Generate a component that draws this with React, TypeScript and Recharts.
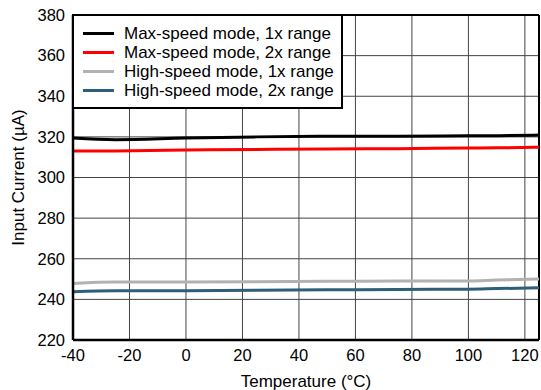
import React from 'react';
import { LineChart, Line, XAxis, YAxis, CartesianGrid, ReferenceLine } from 'recharts';

const temps = [-40, -25, 0, 25, 50, 75, 100, 110, 125];
const maxSpeed1x = [319.4, 318.6, 319.4, 320.0, 320.3, 320.3, 320.5, 320.6, 320.9];
const maxSpeed2x = [313.0, 313.1, 313.5, 313.8, 314.0, 314.2, 314.5, 314.6, 314.9];
const highSpeed1x = [247.8, 248.5, 248.5, 248.7, 248.9, 249.0, 249.1, 249.5, 250.0];
const highSpeed2x = [243.8, 244.2, 244.3, 244.5, 244.7, 244.9, 245.0, 245.3, 245.7];

const xTicks = [-40, -20, 0, 20, 40, 60, 80, 100, 120];
const yTicks = [220, 240, 260, 280, 300, 320, 340, 360, 380];

const seriesNames = [
  'Max-speed mode, 1x range',
  'Max-speed mode, 2x range',
  'High-speed mode, 1x range',
  'High-speed mode, 2x range',
];
const seriesColors = ['#000000', '#ff0000', '#b2b2b2', '#2e5f7a'];
const seriesValues = [maxSpeed1x, maxSpeed2x, highSpeed1x, highSpeed2x];
const seriesKeys = ['s0', 's1', 's2', 's3'];

const data = temps.map((t, i) => {
  const row: any = { t };
  seriesKeys.forEach((k, j) => {
    row[k] = seriesValues[j][i];
  });
  return row;
});

const FONT = '"Liberation Sans", Arial, sans-serif';

const YLabel = (props: any) => {
  const vb = props.viewBox || {};
  const cx = 18;
  const cy = (vb.y ?? 15) + (vb.height ?? 325) / 2;
  return (
    <text
      x={cx}
      y={cy}
      transform={`rotate(-90, ${cx}, ${cy})`}
      textAnchor="middle"
      dominantBaseline="central"
      fontSize={17}
      fontFamily={FONT}
      fill="#000"
    >
      Input Current (µA)
    </text>
  );
};

export default function App() {
  return (
    <div style={{ position: 'absolute', left: 0, top: 0, width: 541, height: 390, background: '#fff', fontFamily: FONT }}>
      <LineChart width={541} height={390} data={data} margin={{ top: 15, right: 2, bottom: 0, left: 0 }}>
        <CartesianGrid stroke="#444" strokeWidth={1} />
        <XAxis
          dataKey="t"
          type="number"
          domain={[-40, 125]}
          ticks={xTicks}
          allowDataOverflow
          height={50}
          tickSize={0}
          tickMargin={9}
          axisLine={{ stroke: '#000', strokeWidth: 2.5 }}
          tick={{ fontSize: 16.5, fontFamily: FONT, fill: '#000' }}
          label={{ value: 'Temperature (°C)', position: 'insideBottom', offset: 3, fontSize: 17, fontFamily: FONT, fill: '#000' }}
        />
        <YAxis
          type="number"
          domain={[220, 380]}
          ticks={yTicks}
          width={73}
          tickSize={0}
          tickMargin={8}
          axisLine={{ stroke: '#000', strokeWidth: 2.5 }}
          tick={{ fontSize: 16.5, fontFamily: FONT, fill: '#000' }}
          label={<YLabel />}
        />
        <ReferenceLine y={380} stroke="#000" strokeWidth={2} />
        <ReferenceLine x={125} stroke="#000" strokeWidth={2} />
        {seriesKeys.map((k, j) => (
          <Line
            key={k}
            dataKey={k}
            name={seriesNames[j]}
            type="monotone"
            stroke={seriesColors[j]}
            strokeWidth={3}
            dot={false}
            isAnimationActive={false}
          />
        ))}
      </LineChart>
      <div
        style={{
          position: 'absolute',
          left: 72,
          top: 14,
          width: 271,
          height: 95,
          boxSizing: 'border-box',
          border: '2px solid #000',
          background: '#fff',
          paddingTop: 8,
        }}
      >
        {seriesNames.map((n, j) => (
          <div key={n} style={{ display: 'flex', alignItems: 'center', height: 19, fontSize: 17, color: '#000', lineHeight: '19px' }}>
            <span style={{ display: 'inline-block', marginLeft: 9, width: 31, height: 3, background: seriesColors[j] }} />
            <span style={{ marginLeft: 10, whiteSpace: 'nowrap' }}>{n}</span>
          </div>
        ))}
      </div>
    </div>
  );
}
